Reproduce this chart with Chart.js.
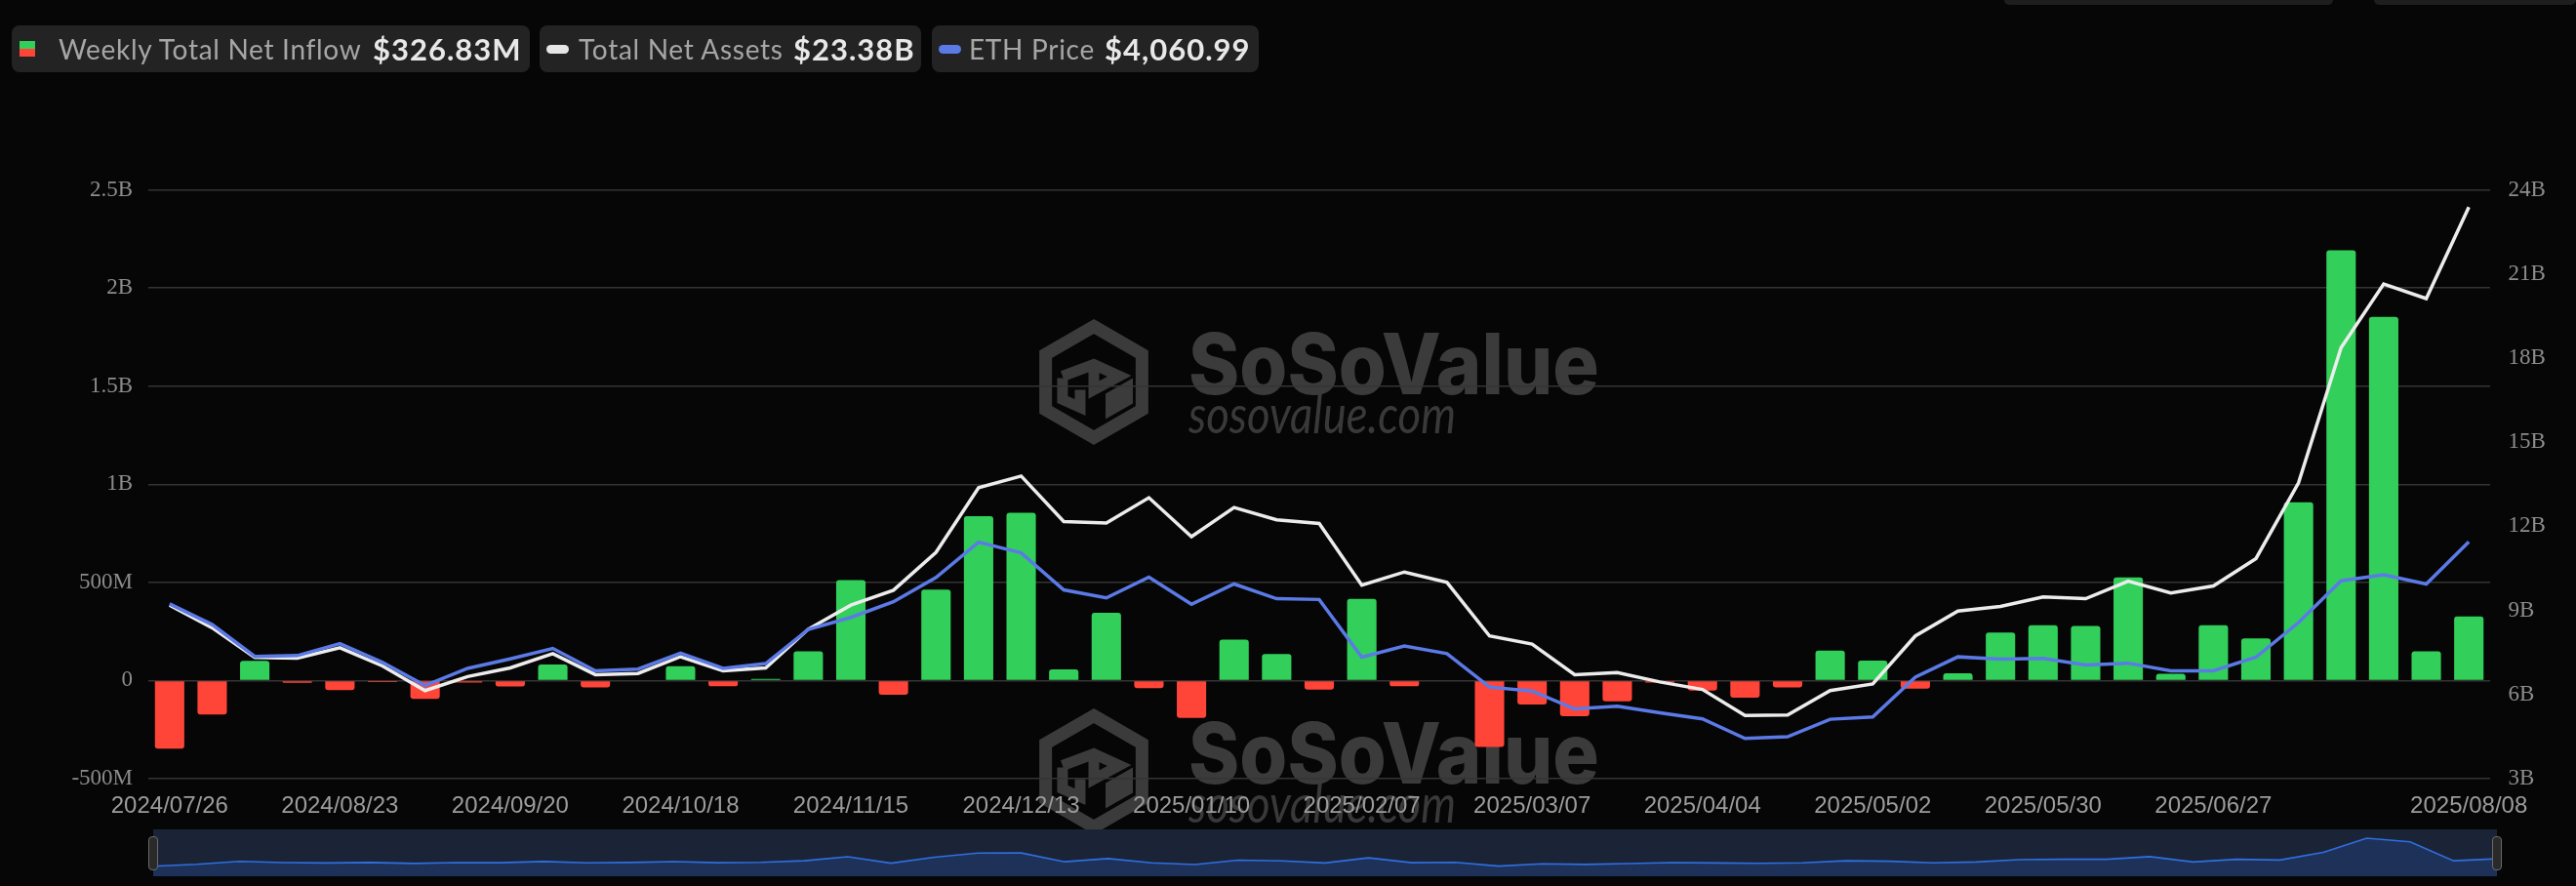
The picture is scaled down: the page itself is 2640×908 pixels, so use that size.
<!DOCTYPE html>
<html>
<head>
<meta charset="utf-8">
<script src="https://cdn.jsdelivr.net/npm/chart.js@4.4.1/dist/chart.umd.min.js"></script>
<style>
  html, body { margin:0; padding:0; background:#060606; }
  body { width:2640px; height:908px; position:relative; overflow:hidden; font-family: Lato, "Open Sans", sans-serif; }
  #main { position:absolute; left:0; top:0; }
  .box { position:absolute; top:26px; height:48px; background:#232323; border-radius:8px; }
  .lbl { position:absolute; top:26px; height:48px; line-height:48px; font-size:28px; letter-spacing:0.7px; color:#a6a6a6; white-space:nowrap; }
  .val { position:absolute; top:26px; height:48px; line-height:48px; font-size:31px; letter-spacing:1px; font-weight:700; color:#e8e8e8; white-space:nowrap; }
  .pill { position:absolute; width:23px; height:9px; border-radius:5px; top:46px; }
  #navWrap { position:absolute; left:157px; top:850px; width:2402px; height:48px; background:#1b2437; }
  #nav { position:absolute; left:0; top:0; }
  .handle { position:absolute; top:857px; width:8px; height:33px; border:1.5px solid #6a6a6a; background:#2a2a2a; border-radius:4px; }
  .topbox { position:absolute; top:0; height:5px; background:#1e1e1e; border-radius:0 0 5px 5px; }
</style>
</head>
<body>
<canvas id="main" width="2640" height="908"></canvas>

<div class="topbox" style="left:2054px; width:337px;"></div>
<div class="topbox" style="left:2433px; width:207px;"></div>

<div class="box" style="left:12px; width:531px;"></div>
<div style="position:absolute; left:20px; top:42px; width:16px; height:8px; background:#32d05a;"></div>
<div style="position:absolute; left:20px; top:50px; width:16px; height:8px; background:#ff4438;"></div>
<div class="lbl" style="left:60px;">Weekly Total Net Inflow</div>
<div class="val" style="left:382px;">$326.83M</div>

<div class="box" style="left:553px; width:391px;"></div>
<div class="pill" style="left:560px; background:#e6e6e6;"></div>
<div class="lbl" style="left:593px;">Total Net Assets</div>
<div class="val" style="left:813px;">$23.38B</div>

<div class="box" style="left:955px; width:335px;"></div>
<div class="pill" style="left:962px; background:#5b7ae6;"></div>
<div class="lbl" style="left:993px;">ETH Price</div>
<div class="val" style="left:1132px;">$4,060.99</div>

<div id="navWrap"><canvas id="nav" width="2402" height="48"></canvas></div>
<div class="handle" style="left:152px;"></div>
<div class="handle" style="left:2554px;"></div>

<script>
// ---- data ----
const weeks = [
  "2024/07/26","2024/08/02","2024/08/09","2024/08/16","2024/08/23","2024/08/30","2024/09/06","2024/09/13",
  "2024/09/20","2024/09/27","2024/10/04","2024/10/11","2024/10/18","2024/10/25","2024/11/01","2024/11/08",
  "2024/11/15","2024/11/22","2024/11/29","2024/12/06","2024/12/13","2024/12/20","2024/12/27","2025/01/03",
  "2025/01/10","2025/01/17","2025/01/24","2025/01/31","2025/02/07","2025/02/14","2025/02/21","2025/02/28",
  "2025/03/07","2025/03/14","2025/03/21","2025/03/28","2025/04/04","2025/04/11","2025/04/18","2025/04/25",
  "2025/05/02","2025/05/09","2025/05/16","2025/05/23","2025/05/30","2025/06/06","2025/06/13","2025/06/20",
  "2025/06/27","2025/07/04","2025/07/11","2025/07/18","2025/07/25","2025/08/01","2025/08/08"
];
// Weekly total net inflow, millions USD
const netInflow = [
  -347, -173, 100, -12, -49, -8, -94, -10, -30, 82, -35, -4, 73, -29, 8, 149,
  512, -73, 463, 837, 855, 57, 345, -39, -190, 208, 135, -47, 416, -29, 3, -339,
  -122, -182, -106, -10, -51, -88, -35, 153, 102, -41, 37, 245, 282, 278,
  525, 35, 282, 214, 908, 2192, 1853, 149, 326.83
];
// Total net assets, billions USD
const totalNetAssets = [
  9.19, 8.38, 7.32, 7.30, 7.67, 7.02, 6.14, 6.64, 6.95, 7.46, 6.71, 6.75, 7.35, 6.85, 6.95, 8.33,
  9.19, 9.72, 11.07, 13.38, 13.79, 12.17, 12.12, 13.02, 11.63, 12.67, 12.23, 12.10, 9.90, 10.37, 10.00, 8.09,
  7.80, 6.71, 6.78, 6.45, 6.18, 5.25, 5.27, 6.14, 6.38, 8.09, 8.98, 9.14, 9.48, 9.42,
  10.04, 9.62, 9.87, 10.85, 13.55, 18.37, 20.64, 20.12, 23.38
];
// ETH price, USD
const ethPrice = [
  3279, 3018, 2617, 2628, 2778, 2542, 2251, 2467, 2587, 2718, 2436, 2457, 2657, 2467, 2527, 2958,
  3108, 3305, 3610, 4056, 3921, 3454, 3354, 3615, 3274, 3529, 3344, 3334, 2607, 2748, 2652, 2231,
  2181, 1956, 1991, 1906, 1831, 1585, 1605, 1826, 1856, 2357, 2612, 2583, 2592, 2508,
  2532, 2436, 2436, 2607, 3043, 3570, 3645, 3529, 4060.99
];
const leftTicks = [-500, 0, 500, 1000, 1500, 2000, 2500];
const rightTicks = [3, 6, 9, 12, 15, 18, 21, 24];
const shownLabelIdx = [0, 4, 8, 12, 16, 20, 24, 28, 32, 36, 40, 44, 48, 54];

const GREEN = '#32d05a', RED = '#ff4438';

function fmtLeft(v) {
  if (v === 0) return '0';
  if (Math.abs(v) >= 1000) return (v / 1000) + 'B';
  return v + 'M';
}

function drawLogo(ctx, cx, cy) {
  const col = '#3b3b3b';
  ctx.save();
  ctx.strokeStyle = col; ctx.lineWidth = 13; ctx.lineJoin = 'miter';
  const r = 57;
  ctx.beginPath();
  for (let k = 0; k < 6; k++) {
    const a = (-90 + 60 * k) * Math.PI / 180;
    const x = cx + r * Math.cos(a), y = cy + r * Math.sin(a);
    if (k === 0) ctx.moveTo(x, y); else ctx.lineTo(x, y);
  }
  ctx.closePath(); ctx.stroke();
  ctx.lineWidth = 11;
  const s = 30;
  ctx.beginPath();
  ctx.moveTo(cx - s * 0.87 - 6, cy - 6);
  ctx.lineTo(cx, cy - s * 0.6);
  ctx.lineTo(cx + s * 0.87, cy - 6);
  ctx.lineTo(cx, cy + 8);
  ctx.lineTo(cx, cy - 14);
  ctx.stroke();
  ctx.beginPath();
  ctx.moveTo(cx - s * 0.87 - 6, cy - 4);
  ctx.lineTo(cx - s * 0.87 - 6, cy + 18);
  ctx.lineTo(cx - 14, cy + 26);
  ctx.lineTo(cx - 14, cy + 8);
  ctx.stroke();
  ctx.fillStyle = col;
  ctx.beginPath();
  ctx.moveTo(cx + 12, cy + 12);
  ctx.lineTo(cx + 40, cy - 4);
  ctx.lineTo(cx + 40, cy + 22);
  ctx.lineTo(cx + 12, cy + 38);
  ctx.closePath(); ctx.fill();
  ctx.restore();
}

function drawWord(ctx, text, font, x, y, targetW, color) {
  ctx.save();
  ctx.font = font;
  ctx.fillStyle = color;
  ctx.textBaseline = 'alphabetic';
  const w = ctx.measureText(text).width;
  ctx.translate(x, y);
  ctx.scale(targetW / w, 1);
  ctx.fillText(text, 0, 0);
  ctx.restore();
}

const watermarkPlugin = {
  id: 'watermark',
  beforeDraw(chart) {
    const ctx = chart.ctx;
    ctx.save();
    ctx.fillStyle = '#060606';
    ctx.fillRect(0, 0, chart.width, chart.height);
    [0, 399].forEach(dy => {
      drawLogo(ctx, 1121, 391.5 + dy);
      drawWord(ctx, 'SoSoValue', '800 86px Inter', 1218, 404 + dy, 421, '#3b3b3b');
      drawWord(ctx, 'sosovalue.com', 'italic 400 55px Lato', 1218, 444 + dy, 274, '#393939');
    });
    ctx.restore();
  }
};

Chart.defaults.font.family = '"Liberation Serif", serif';

new Chart(document.getElementById('main'), {
  data: {
    labels: weeks,
    datasets: [
      { type: 'line', label: 'ETH Price', data: ethPrice, yAxisID: 'yEth',
        borderColor: '#5b7ae6', borderWidth: 3.5, pointRadius: 0, tension: 0, order: 1 },
      { type: 'line', label: 'Total Net Assets', data: totalNetAssets, yAxisID: 'yAssets',
        borderColor: '#ececec', borderWidth: 3.5, pointRadius: 0, tension: 0, order: 2 },
      { type: 'bar', label: 'Weekly Total Net Inflow', data: netInflow, yAxisID: 'y',
        backgroundColor: netInflow.map(v => v >= 0 ? GREEN : RED),
        barPercentage: 0.69, categoryPercentage: 1, borderRadius: 3, order: 3 }
    ]
  },
  options: {
    responsive: false, animation: false, devicePixelRatio: 1,
    layout: { padding: { top: 194.5, left: 0, right: 0, bottom: 0 } },
    plugins: { legend: { display: false }, tooltip: { enabled: false } },
    scales: {
      x: {
        grid: { display: false, drawTicks: false }, border: { display: false },
        ticks: {
          autoSkip: false, maxRotation: 0, minRotation: 0, padding: 14,
          color: '#9c9c9c', font: { family: '"Liberation Sans", Arial, sans-serif', size: 24 },
          callback: (v, i) => shownLabelIdx.includes(i) ? weeks[i] : ''
        },
        afterFit(s) { s.height = 110; }
      },
      y: {
        position: 'left', min: leftTicks[0], max: leftTicks[leftTicks.length - 1],
        afterBuildTicks(s) { s.ticks = leftTicks.map(v => ({ value: v })); },
        grid: { color: '#343434', lineWidth: 1.5, drawTicks: false }, border: { display: false },
        ticks: { padding: 16, color: '#8c8c8c', font: { size: 23 }, callback: v => fmtLeft(v) },
        afterFit(s) { s.width = 152; }
      },
      yAssets: {
        position: 'right', min: rightTicks[0], max: rightTicks[rightTicks.length - 1],
        afterBuildTicks(s) { s.ticks = rightTicks.map(v => ({ value: v })); },
        grid: { display: false, drawTicks: false }, border: { display: false },
        ticks: { padding: 18.5, color: '#8c8c8c', font: { size: 23 }, callback: v => v + 'B' },
        afterFit(s) { s.width = 88; }
      },
      yEth: { display: false, min: 1078, max: 8492 }
    }
  },
  plugins: [watermarkPlugin]
});

new Chart(document.getElementById('nav'), {
  type: 'line',
  data: {
    labels: weeks,
    datasets: [{ data: netInflow, borderColor: '#2f6fe0', borderWidth: 1.6, pointRadius: 0,
      tension: 0, fill: 'start', backgroundColor: '#1e3159' }]
  },
  options: {
    responsive: false, animation: false, devicePixelRatio: 1,
    layout: { padding: 0 },
    plugins: { legend: { display: false }, tooltip: { enabled: false } },
    scales: {
      x: { display: false, offset: false },
      y: { display: false, min: -1250, max: 2980 }
    }
  }
});
</script>
</body>
</html>
